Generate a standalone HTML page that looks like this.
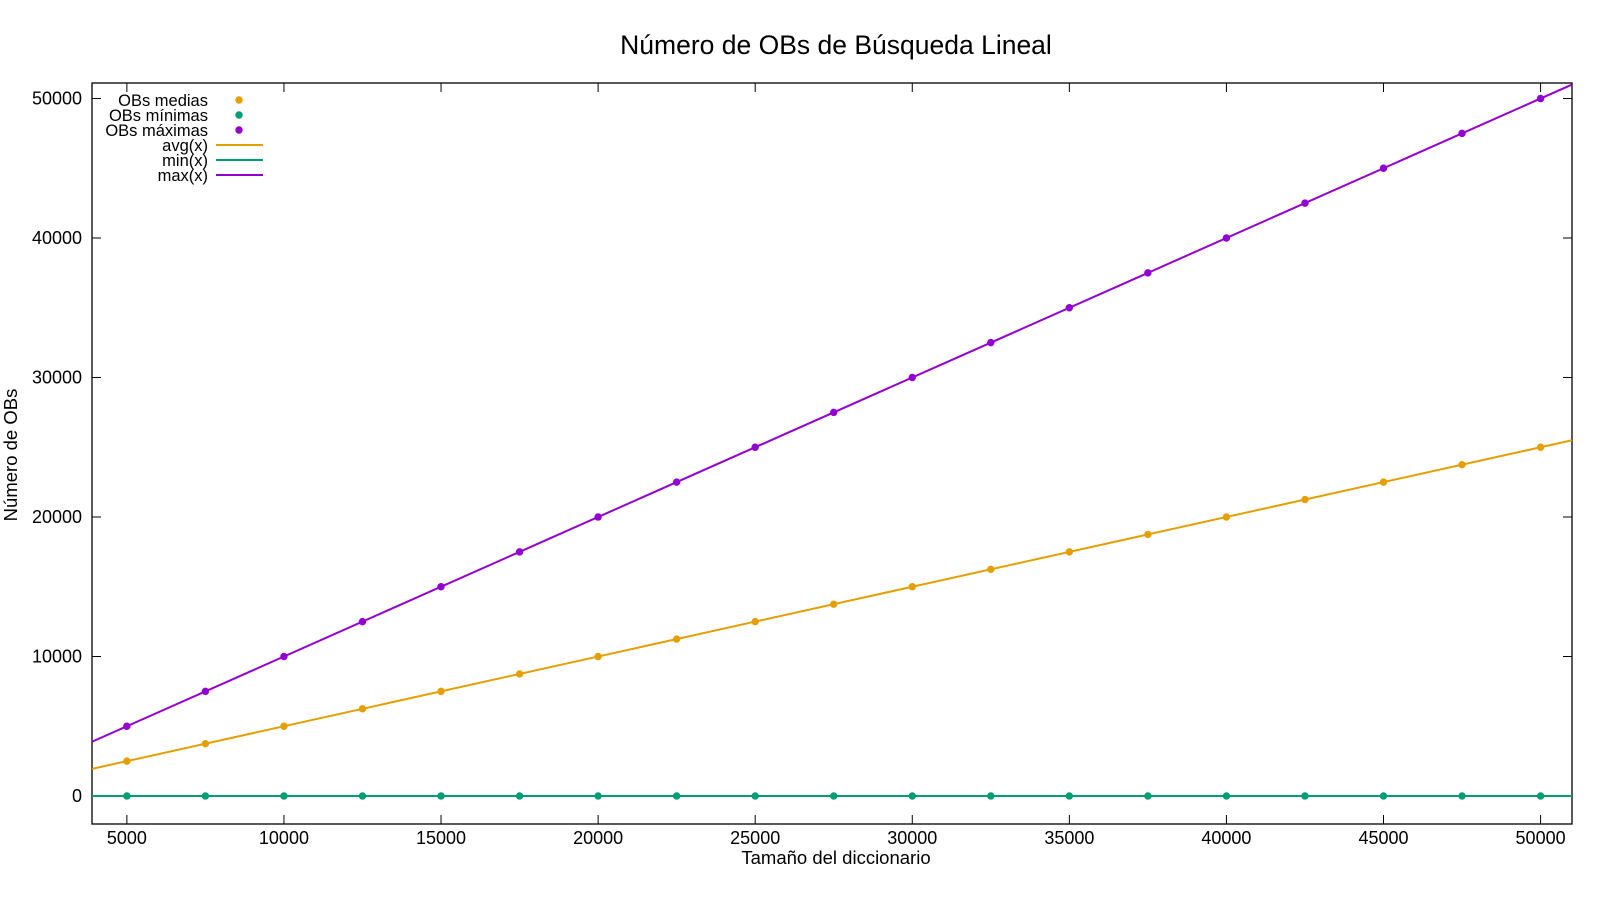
<!DOCTYPE html>
<html><head><meta charset="utf-8"><style>
body{margin:0;background:#fff;width:1600px;height:900px;overflow:hidden}
text{font-family:"Liberation Sans",sans-serif;fill:#000}
</style></head><body>
<svg id="c" width="1600" height="900" xmlns="http://www.w3.org/2000/svg"></svg>
<script>
const xVals=[5000,7500,10000,12500,15000,17500,20000,22500,25000,27500,30000,32500,35000,37500,40000,42500,45000,47500,50000];
const avgVals=[2500,3750,5000,6250,7500,8750,10000,11250,12500,13750,15000,16250,17500,18750,20000,21250,22500,23750,25000];
const minVals=[1,1,1,1,1,1,1,1,1,1,1,1,1,1,1,1,1,1,1];
const maxVals=[5000,7500,10000,12500,15000,17500,20000,22500,25000,27500,30000,32500,35000,37500,40000,42500,45000,47500,50000];
const lineX=[3890,51000];
const avgLine=[1945,25500];
const minLine=[1,1];
const maxLine=[3890,51000];
const xTicks=[5000,10000,15000,20000,25000,30000,35000,40000,45000,50000];
const yTicks=[0,10000,20000,30000,40000,50000];
const L=92,R=1572,T=83,B=824,XMIN=3890,XMAX=51000;
const sx=v=>L+(v-XMIN)/(XMAX-XMIN)*(R-L);
const sy=v=>796-v*0.01395;
const svg=document.getElementById('c');
const NS='http://www.w3.org/2000/svg';
function mk(tag,at,txt){const e=document.createElementNS(NS,tag);for(const k in at)e.setAttribute(k,at[k]);if(txt!==undefined)e.textContent=txt;svg.appendChild(e);return e;}
let e;
e=mk('text',{x:836,y:54,'font-size':26.5,'text-anchor':'middle'},'Número de OBs de Búsqueda Lineal');


e=mk('rect',{x:L,y:T,width:R-L,height:B-T,fill:'none',stroke:'#000','stroke-width':1.3});


xTicks.forEach(t=>{const x=sx(t);
 mk('line',{x1:x,x2:x,y1:B,y2:B-9,stroke:'#000'});mk('line',{x1:x,x2:x,y1:T,y2:T+9,stroke:'#000'});
 e=mk('text',{x:x,y:844,'font-size':18,'text-anchor':'middle'},t);
 
 });
yTicks.forEach(t=>{const y=sy(t);
 mk('line',{x1:L,x2:L+9,y1:y,y2:y,stroke:'#000'});mk('line',{x1:R,x2:R-9,y1:y,y2:y,stroke:'#000'});
 e=mk('text',{x:82,y:y+6,'font-size':18,'text-anchor':'end'},t);
 
 });
e=mk('text',{x:836,y:864,'font-size':18.5,'text-anchor':'middle'},'Tamaño del diccionario');


e=mk('text',{x:0,y:0,'font-size':18.5,'text-anchor':'middle',transform:'translate(17,455) rotate(-90)'},'Número de OBs');


const series=[['avg',avgLine,avgVals,'#e69f00'],['min',minLine,minVals,'#009e73'],['max',maxLine,maxVals,'#9400d3']];
series.forEach(([n,lv,pv,c])=>{
 e=mk('line',{x1:sx(lineX[0]),y1:sy(lv[0]),x2:sx(lineX[1]),y2:sy(lv[1]),stroke:c,'stroke-width':2});
 
 
 pv.forEach((v,i)=>{e=mk('circle',{cx:sx(xVals[i]),cy:sy(v),r:3.7,fill:c});
  
  });
});
const leg=[['OBs medias','#e69f00',0],['OBs mínimas','#009e73',0],['OBs máximas','#9400d3',0],['avg(x)','#e69f00',1],['min(x)','#009e73',1],['max(x)','#9400d3',1]];
leg.forEach(([t,c,isLine],i)=>{const y=100+i*15;
 e=mk('text',{x:208,y:y+6,'font-size':16.5,'text-anchor':'end'},t);
 
 
 if(isLine){e=mk('line',{x1:216,x2:263,y1:y,y2:y,stroke:c,'stroke-width':2});}
 else{e=mk('circle',{cx:239,cy:y,r:3.7,fill:c});}
 
 
});
</script>
</body></html>
